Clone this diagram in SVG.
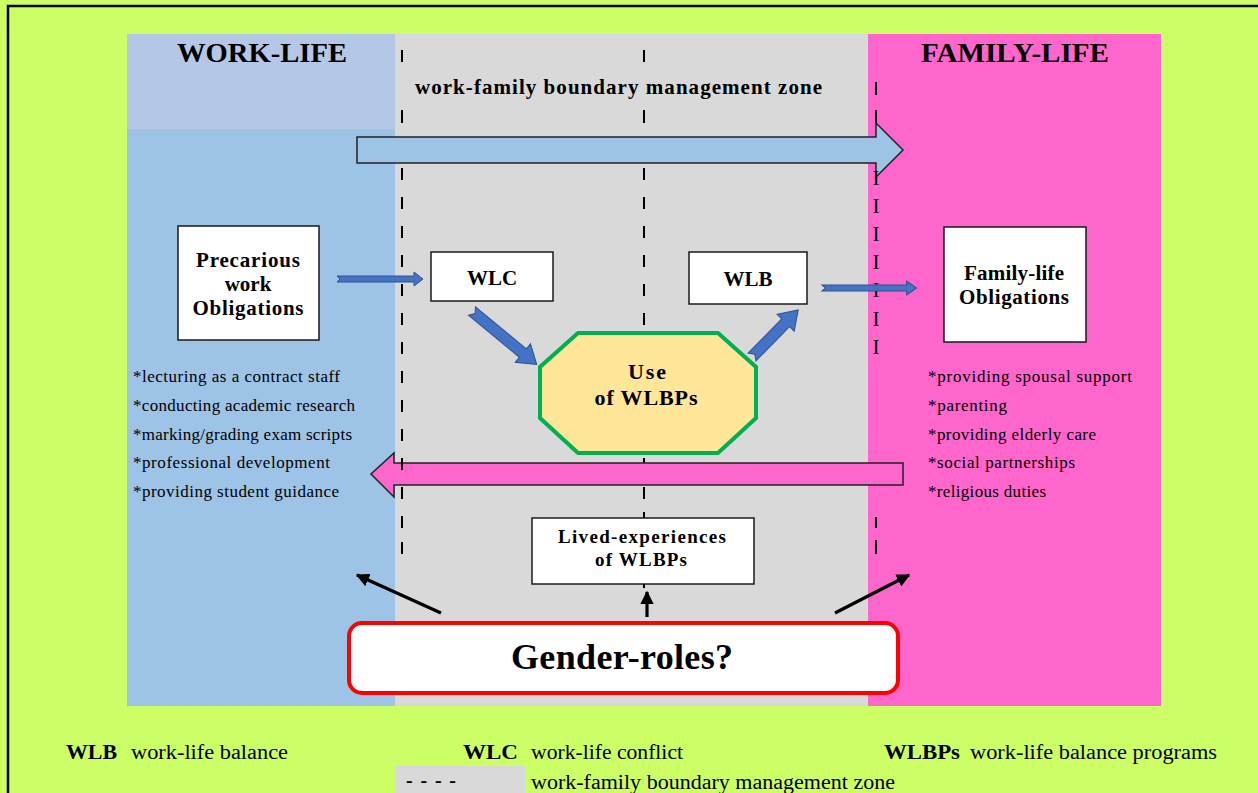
<svg xmlns="http://www.w3.org/2000/svg" width="1258" height="793" viewBox="0 0 1258 793">
<defs>
<style>
.serif{font-family:"Liberation Serif","Times New Roman",serif;fill:#000}
.b{font-weight:bold}
.box{fill:#fff;stroke:#1a1a1a;stroke-width:1.5}
.blue{fill:#4472C4;stroke:#2F528F;stroke-width:1}
.dash{stroke:#000;stroke-width:2;fill:none}
.blk{stroke:#000;stroke-width:3.2;fill:none}
.li{font-size:17px}
.lg{font-size:20px}
</style>
<marker id="ah" viewBox="0 0 10 10" refX="9" refY="5" markerWidth="4.2" markerHeight="4.2" orient="auto" markerUnits="strokeWidth">
<path d="M0,0 L10,5 L0,10 z" fill="#000"/>
</marker>
<path id="thin" d="M0,-3 L77,-3 L77,-7 L86,0 L77,7 L77,3 L0,3 L3,0 z"/>
</defs>

<g id="background">
<rect x="0" y="0" width="1258" height="793" fill="#CCFF66"/>
<rect x="8" y="6" width="1270" height="800" fill="none" stroke="#000" stroke-width="2.5"/>
<rect x="127" y="34" width="268" height="95" fill="#B4C7E7"/>
<rect x="127" y="129" width="268" height="577" fill="#9DC3E6"/>
<rect x="395" y="34" width="473" height="672" fill="#D9D9D9"/>
<rect x="868" y="34" width="293" height="672" fill="#FF66CC"/>
<text class="serif b" x="262" y="62" font-size="28" text-anchor="middle" textLength="170" lengthAdjust="spacingAndGlyphs">WORK-LIFE</text>
<text class="serif b" x="1015" y="62" font-size="28" text-anchor="middle" textLength="188" lengthAdjust="spacingAndGlyphs">FAMILY-LIFE</text>
<text class="serif b" x="415" y="94" font-size="21" textLength="407" lengthAdjust="spacing">work-family boundary management zone</text>
</g>

<g id="zone-lines">
<path class="dash" d="M402,50v12M402,110v13M402,168v12M402,197v12M402,226v12M402,255v12M402,284v12M402,313v12M402,342v12M402,371v12M402,400v12M402,429v12M402,458v12M402,487v12M402,516v12M402,542v12"/>
<path class="dash" d="M644,50v12M644,110v13M644,168v12M644,197v12M644,226v12M644,255v12M644,284v12M644,313v12M644,458v12M644,487v12M644,512v8M644,584v4"/>
<path class="dash" d="M876,82v13M876,110v13M876,517v11M876,540v14"/>
</g>

<g id="arrow-work-to-family">
<path d="M357,137 L876,137 L876,123 L903,150 L876,177 L876,163 L357,163 z" fill="#9DC3E6" stroke="#222" stroke-width="1.5"/>
</g>

<g id="family-boundary-marks" class="serif" font-size="20" text-anchor="middle">
<text x="876" y="185">I</text>
<text x="876" y="213">I</text>
<text x="876" y="241">I</text>
<text x="876" y="269">I</text>
<text x="876" y="297">I</text>
<text x="876" y="326">I</text>
<text x="876" y="354">I</text>
</g>

<g id="arrow-family-to-work">
<path d="M903,463 L394,463 L394,453 L371,474 L394,497 L394,485 L903,485 z" fill="#FF66CC" stroke="#222" stroke-width="1.5"/>
</g>
<path class="dash" d="M402,458v12M402,487v12"/>

<g id="node-precarious">
<rect class="box" x="178" y="226" width="141" height="114"/>
<text class="serif b" x="248" y="267" font-size="21" text-anchor="middle" textLength="104" lengthAdjust="spacing">Precarious</text>
<text class="serif b" x="248" y="291" font-size="21" text-anchor="middle">work</text>
<text class="serif b" x="248" y="315" font-size="21" text-anchor="middle" textLength="111" lengthAdjust="spacing">Obligations</text>
</g>

<g id="node-wlc">
<rect class="box" x="431" y="252" width="122" height="49"/>
<text class="serif b" x="492" y="285" font-size="21" text-anchor="middle">WLC</text>
</g>

<g id="node-wlb">
<rect class="box" x="689" y="252" width="118" height="52"/>
<text class="serif b" x="748" y="286" font-size="21" text-anchor="middle">WLB</text>
</g>

<g id="node-use-wlbps">
<polygon points="578,333 718,333 756,367 756,418 718,453 578,453 540,418 540,367" fill="#FFE699" stroke="#00B050" stroke-width="4"/>
<text class="serif b" x="647" y="379" font-size="22" text-anchor="middle" textLength="38" lengthAdjust="spacing">Use</text>
<text class="serif b" x="646" y="405" font-size="22" text-anchor="middle" textLength="103" lengthAdjust="spacing">of WLBPs</text>
</g>

<g id="node-family">
<rect class="box" x="944" y="227" width="142" height="115"/>
<text class="serif b" x="1014" y="280" font-size="21" text-anchor="middle" textLength="100" lengthAdjust="spacing">Family-life</text>
<text class="serif b" x="1014" y="304" font-size="21" text-anchor="middle" textLength="110" lengthAdjust="spacing">Obligations</text>
</g>

<g id="node-lived">
<rect class="box" x="532" y="518" width="222" height="66"/>
<text class="serif b" x="642" y="543" font-size="19" text-anchor="middle" textLength="168" lengthAdjust="spacing">Lived-experiences</text>
<text class="serif b" x="641" y="566" font-size="19" text-anchor="middle" textLength="92" lengthAdjust="spacing">of WLBPs</text>
</g>

<g id="node-gender">
<rect x="349" y="623" width="549" height="70" rx="13" ry="13" fill="#fff" stroke="#FF0000" stroke-width="4"/>
<text class="serif b" x="622" y="669" font-size="36" text-anchor="middle" textLength="222" lengthAdjust="spacing">Gender-roles?</text>
</g>

<g id="work-list" class="serif li">
<text x="133" y="382" textLength="207" lengthAdjust="spacing">*lecturing as a contract staff</text>
<text x="133" y="411" textLength="222" lengthAdjust="spacing">*conducting academic research</text>
<text x="133" y="440" textLength="219" lengthAdjust="spacing">*marking/grading exam scripts</text>
<text x="133" y="468" textLength="197" lengthAdjust="spacing">*professional development</text>
<text x="133" y="497" textLength="206" lengthAdjust="spacing">*providing student guidance</text>
</g>

<g id="family-list" class="serif li">
<text x="928" y="382" textLength="204" lengthAdjust="spacing">*providing spousal support</text>
<text x="928" y="411" textLength="79" lengthAdjust="spacing">*parenting</text>
<text x="928" y="440" textLength="168" lengthAdjust="spacing">*providing elderly care</text>
<text x="928" y="468" textLength="147" lengthAdjust="spacing">*social partnerships</text>
<text x="928" y="497" textLength="118" lengthAdjust="spacing">*religious duties</text>
</g>

<g id="connectors">
<use href="#thin" class="blue" transform="translate(337,279)"/>
<use href="#thin" class="blue" transform="translate(822,288) scale(1.1,1)"/>
<path class="blue" d="M0,-5.5 L66,-5.5 L66,-12 L84,0 L66,12 L66,5.5 L0,5.5 L4,0 z" transform="translate(472,311) rotate(39.6)"/>
<path class="blue" d="M0,-5.5 L48,-5.5 L48,-12 L66,0 L48,12 L48,5.5 L0,5.5 L4,0 z" transform="translate(752,357) rotate(-45.5)"/>
<line class="blk" x1="441" y1="613" x2="357" y2="575" marker-end="url(#ah)"/>
<line class="blk" x1="647" y1="617" x2="647" y2="592" marker-end="url(#ah)"/>
<line class="blk" x1="835" y1="613" x2="909" y2="575" marker-end="url(#ah)"/>
</g>

<g id="legend" class="serif lg">
<text class="b" x="66" y="759" textLength="51" lengthAdjust="spacingAndGlyphs">WLB</text>
<text x="131" y="759" textLength="157" lengthAdjust="spacingAndGlyphs">work-life balance</text>
<text class="b" x="463" y="759" textLength="55" lengthAdjust="spacingAndGlyphs">WLC</text>
<text x="531" y="759" textLength="152" lengthAdjust="spacingAndGlyphs">work-life conflict</text>
<text class="b" x="884" y="759" textLength="76" lengthAdjust="spacingAndGlyphs">WLBPs</text>
<text x="970" y="759" textLength="247" lengthAdjust="spacingAndGlyphs">work-life balance programs</text>
<rect x="395" y="766" width="130" height="30" fill="#D9D9D9"/>
<text class="b" x="406" y="787" textLength="50" lengthAdjust="spacing">- - - -</text>
<text x="531" y="789" textLength="364" lengthAdjust="spacingAndGlyphs">work-family boundary management zone</text>
</g>
</svg>
